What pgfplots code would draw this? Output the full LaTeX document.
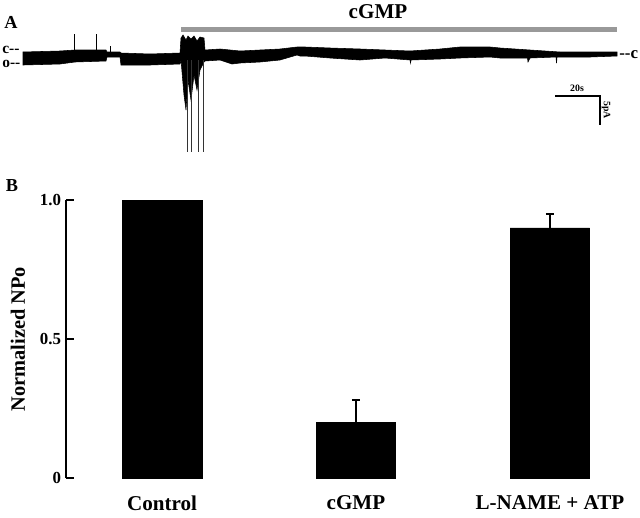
\documentclass[border=0pt]{standalone}
\usepackage{fontspec}
\setmainfont{Liberation Serif}
\usepackage{pgfplots}
\pgfplotsset{compat=1.18}

\begin{document}
\begin{tikzpicture}
\useasboundingbox (0,0) rectangle (16cm,-12.925cm);
% panel A: single-channel trace, pixel-like units (1 unit = 0.025cm)
\begin{axis}[at={(0,0)}, anchor=north west, scale only axis,
  width=16cm, height=4cm, xmin=0, xmax=640, ymin=0, ymax=160,
  y dir=reverse, hide axis, clip=false]
  % cGMP application bar
  \addplot[fill=black!40, draw=none] coordinates {
    (181,27) (617,27) (617,32) (181,32)} --cycle;
  % trace band (upper envelope, then lower envelope back)
  \addplot[fill=black, draw=black, line width=0.4pt] coordinates {
    (23,52) (60,51) (75,50) (106,50) (107,52) (120,52) (121,53) (150,54) (180,53)
    (181,38) (183,35) (186,40) (188,36) (191,39) (194,36) (197,41) (200,37) (204,38)
    (205,50) (220,49) (240,51) (260,50) (280,49) (297,47)
    (305,47) (330,48) (360,49) (385,50) (410,51) (440,49) (460,47) (490,47)
    (500,48) (530,50) (560,52) (590,52) (617,52)
    (617,56) (590,57) (560,57) (557,57) (556.5,63) (556,57) (530,58) (528,62)
    (527.5,58) (500,58) (490,57) (460,58) (440,59) (411,60) (410.5,63) (410,60)
    (385,58) (360,60) (330,58) (305,56) (300,56) (297,55) (280,60) (260,62)
    (240,63) (232,64) (220,60) (205,61) (204,62) (200,70) (197,90) (194,75) (191,100)
    (188,80) (186,110) (184,95) (181,60) (180,64) (150,65) (121,65) (120,57)
    (107,57) (106,61) (75,62) (60,64) (23,65)} --cycle;
  % openings during cGMP onset
  \addplot[black!80, line width=0.6pt] coordinates {(187,60) (187,152)};
  \addplot[black!80, line width=0.6pt] coordinates {(191,60) (191,152)};
  \addplot[black!80, line width=0.6pt] coordinates {(198,60) (198,152)};
  \addplot[black!80, line width=0.6pt] coordinates {(203,60) (203,152)};
  % brief upward transients
  \addplot[black, line width=0.5pt] coordinates {(74,52) (74,34)};
  \addplot[black, line width=0.5pt] coordinates {(96,51) (96,34)};
  \addplot[black, line width=0.5pt] coordinates {(110,52) (110,46)};
  % scale bar
  \addplot[black, line width=1.2pt] coordinates {(555,96) (600,96) (600,125)};
  \node[font=\fontsize{13}{15}\selectfont\bfseries] at (axis cs:11,22) {A};
  \node[font=\fontsize{15}{17}\selectfont\bfseries] at (axis cs:378,12) {cGMP};
  \node[font=\fontsize{11}{13}\selectfont\bfseries, anchor=west, inner sep=0pt] at (axis cs:2,49.5) {c-{}-};
  \node[font=\fontsize{11}{13}\selectfont\bfseries, anchor=west, inner sep=0pt] at (axis cs:2,63.5) {o-{}-};
  \node[font=\fontsize{12}{14}\selectfont\bfseries, anchor=west, inner sep=0pt] at (axis cs:619,55) {-{}-c};
  \node[font=\fontsize{7}{8}\selectfont\bfseries] at (axis cs:577,88) {20s};
  \node[font=\fontsize{7}{8}\selectfont\bfseries, rotate=-90] at (axis cs:606,110) {5pA};
\end{axis}
\node[font=\fontsize{13}{15}\selectfont\bfseries] at (0.3cm,-4.65cm) {B};
% panel B: bar chart
\begin{axis}[at={(1.65cm,-11.95cm)}, anchor=south west, scale only axis,
  width=13.85cm, height=6.95cm,
  xmin=-0.495, xmax=2.361, ymin=0, ymax=1,
  axis y line*=left, axis x line*=bottom,
  x axis line style={draw=none}, y axis line style={line width=1.6pt},
  xtick={0,1,2}, xticklabels={Control,cGMP,L-NAME + ATP},
  xtick style={draw=none},
  ytick={0,0.5,1}, yticklabels={0,0.5,1.0},
  ytick style={line width=1.6pt, black},
  tick align=inside, major tick length=0.2cm,
  /pgf/number format/assume math mode=true,
  yticklabel style={font=\fontsize{12}{14}\selectfont\bfseries},
  xticklabel style={font=\fontsize{15}{17}\selectfont\bfseries, yshift=-0.32cm},
  ylabel={Normalized NPo},
  ylabel style={font=\fontsize{14.5}{17}\selectfont\bfseries,
    at={(axis description cs:-0.087,0.5)}, anchor=center},
]
  \addplot[ybar, bar width=0.41, fill=black, draw=black,
    error bars/.cd, y dir=plus, y explicit,
    error bar style={line width=1.6pt, black}]
    coordinates {(0,1) (1,0.2) +- (0,0.08) (2,0.9) +- (0,0.05)};
  % error bar caps
  \addplot[black, line width=1.6pt] coordinates {(0.979,0.28) (1.021,0.28)};
  \addplot[black, line width=1.6pt] coordinates {(1.979,0.95) (2.021,0.95)};
\end{axis}
\end{tikzpicture}
\end{document}
